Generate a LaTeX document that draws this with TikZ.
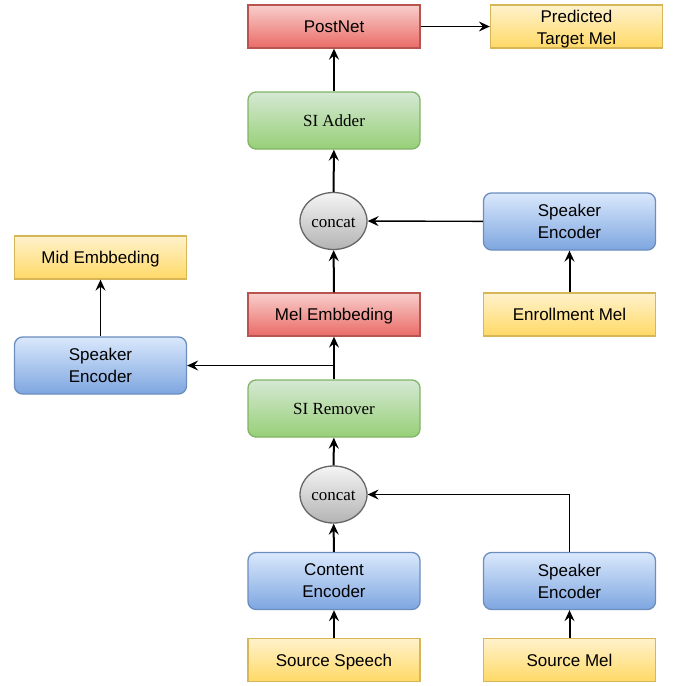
\documentclass[tikz,border=0pt]{standalone}
\usepackage{fontspec}
\setmainfont{Liberation Sans}
\newfontfamily\serifface{Liberation Serif}
\usetikzlibrary{arrows.meta,shapes.geometric}

\definecolor{blueTop}{HTML}{DAE8FC}\definecolor{blueBot}{HTML}{7EA6E0}\definecolor{blueLine}{HTML}{6C8EBF}
\definecolor{redTop}{HTML}{F8CECC}\definecolor{redBot}{HTML}{EA6B66}\definecolor{redLine}{HTML}{B85450}
\definecolor{greenTop}{HTML}{D5E8D4}\definecolor{greenBot}{HTML}{97D077}\definecolor{greenLine}{HTML}{82B366}
\definecolor{yellowTop}{HTML}{FFF2CC}\definecolor{yellowBot}{HTML}{FFD966}\definecolor{yellowLine}{HTML}{D6B656}
\definecolor{grayTop}{HTML}{F5F5F5}\definecolor{grayBot}{HTML}{B3B3B3}\definecolor{grayLine}{HTML}{666666}

\tikzset{
  base/.style={line width=1.3pt, inner sep=0pt, align=center,
    font=\fontsize{17}{22}\selectfont},
  oneline/.style={text height=16pt, text depth=3.8pt},
  flat/.style={base, minimum width=172pt, minimum height=43pt},
  tall/.style={base, minimum width=172pt, minimum height=57pt, rounded corners=8pt},
  yellowbox/.style={flat, top color=yellowTop, bottom color=yellowBot, draw=yellowLine},
  redbox/.style={flat, top color=redTop, bottom color=redBot, draw=redLine},
  bluebox/.style={tall, top color=blueTop, bottom color=blueBot, draw=blueLine},
  greenbox/.style={tall, oneline, top color=greenTop, bottom color=greenBot, draw=greenLine,
    font=\serifface\fontsize{17}{22}\selectfont},
  joinnode/.style={ellipse, oneline, line width=1.3pt, inner sep=0pt, minimum width=67pt,
    minimum height=57pt, top color=grayTop, bottom color=grayBot, draw=grayLine,
    font=\serifface\fontsize{17}{22}\selectfont},
  arr/.style={-{Stealth[length=11pt,width=10pt,inset=4pt]}, line width=1.1pt},
  arrthick/.style={arr, line width=2pt},
}

\begin{document}
\begin{tikzpicture}[x=1pt,y=-1pt]
  \useasboundingbox (0,0) rectangle (677,686);

  % output stage
  \node[redbox, oneline] (postnet) at (334,26.5)   {PostNet};
  \node[yellowbox, text height=39pt, text depth=3.6pt] (pred) at (576.5,26.5) {Predicted\\Target Mel};
  \node[greenbox]  (siadder)  at (334,120.5)  {SI Adder};

  % speaker injection branch
  \node[joinnode]  (concatA)  at (333.5,221)  {concat};
  \node[bluebox]   (spkA)     at (569.5,221.5){Speaker\\Encoder};
  \node[yellowbox, oneline] (enroll) at (569.5,314.5){Enrollment Mel};
  \node[redbox, oneline]    (melemb) at (334,314.5)  {Mel Embbeding};

  % speaker check on the intermediate embedding
  \node[yellowbox, oneline] (mid) at (100.5,257.5){Mid Embbeding};
  \node[bluebox]   (spkB)     at (100.5,365.5){Speaker\\Encoder};

  % speaker removal stage
  \node[greenbox]  (siremover) at (334,408.5) {SI Remover};
  \node[joinnode]  (concatB)  at (333.5,494.5){concat};
  \node[bluebox]   (content)  at (334,581)    {Content\\Encoder};
  \node[bluebox]   (spkC)     at (569.5,581)  {Speaker\\Encoder};
  \node[yellowbox, oneline] (srcspeech) at (334,660)  {Source Speech};
  \node[yellowbox, oneline] (srcmel)    at (569.5,660){Source Mel};

  % connectors
  \draw[arrthick] (srcspeech) -- (content);
  \draw[arrthick] (srcmel) -- (spkC);
  \draw[arrthick] (content) -- (concatB);
  \draw[arr] (spkC.north) |- (concatB.east);
  \draw[arrthick] (concatB) -- (siremover);
  \draw[arr, line width=1.4pt] (siremover) -- (melemb);
  \coordinate (split) at (siremover.north |- spkB.east);
  \draw[arr, line width=1.4pt] (split) -- (spkB.east);
  \draw[arr, line width=1.4pt] (spkB) -- (mid);
  \draw[arrthick] (melemb) -- (concatA);
  \draw[arrthick] (enroll) -- (spkA);
  \draw[arr, line width=1.4pt] (spkA) -- (concatA);
  \draw[arrthick] (concatA) -- (siadder);
  \draw[arrthick] (siadder) -- (postnet);
  \draw[arr, line width=1.4pt] (postnet) -- (pred);
\end{tikzpicture}
\end{document}
